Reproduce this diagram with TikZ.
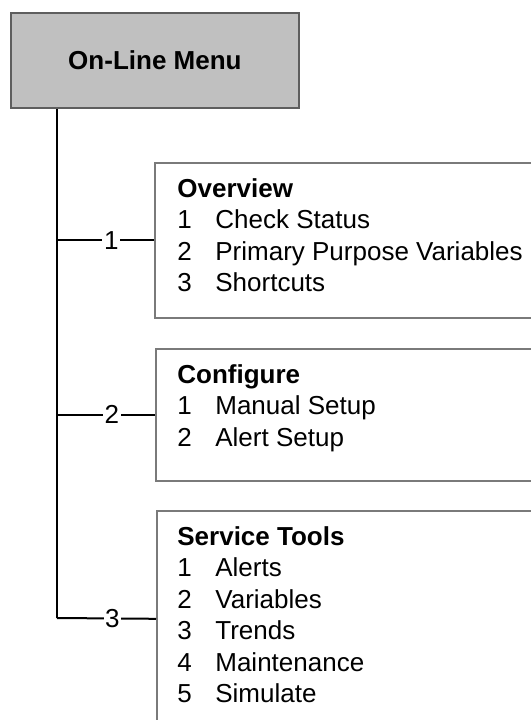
\documentclass[tikz,border=0pt]{standalone}
\usepackage{fontspec}
\setmainfont{Liberation Sans}
\usetikzlibrary{positioning, calc}
\definecolor{cmenu}{HTML}{C0C0C0}
\definecolor{cedge}{HTML}{5E5E5E}
\definecolor{cpanel}{HTML}{7A7A7A}

\newcommand{\itm}[2]{\makebox[19pt][l]{#1}#2}

\begin{document}
\begin{tikzpicture}[
    x=0.5pt, y=-0.5pt,
    font=\fontsize{13}{15.75}\selectfont,
    menu/.style={draw=cedge, fill=cmenu, line width=0.9pt, font=\fontsize{13}{15.75}\selectfont\bfseries, minimum width=144pt, minimum height=47.5pt, anchor=north west},
    panel/.style={draw=cpanel, line width=0.8pt, minimum width=196pt, minimum height=#1, inner sep=0pt, anchor=north west},
    entries/.style={anchor=base west, align=left, inner sep=0pt},
    trunk/.style={line width=1pt},
    branchno/.style={fill=white, inner sep=0.8pt, pos=0.56},
]
\useasboundingbox (0,0) rectangle (531,720);
\clip (0,0) rectangle (531,720);

\node[menu] (menu) at (10,12) {On-Line Menu};

\node[panel=77.5pt] (overview) at (154,162) {};
\node[panel=66pt] (configure) at (155,348) {};
\node[panel=108pt] (service) at (156,510) {};

% base anchor sits on the last line
\node[entries] (overviewlist) at (177,291.5) {\textbf{Overview}\\
    \itm{1}{Check Status}\\
    \itm{2}{Primary Purpose Variables}\\
    \itm{3}{Shortcuts}};
\node[entries] (configurelist) at (177,446) {\textbf{Configure}\\
    \itm{1}{Manual Setup}\\
    \itm{2}{Alert Setup}};
\node[entries] (servicelist) at (177,702.5) {\textbf{Service Tools}\\
    \itm{1}{Alerts}\\
    \itm{2}{Variables}\\
    \itm{3}{Trends}\\
    \itm{4}{Maintenance}\\
    \itm{5}{Simulate}};

% trunk and branches
\coordinate (t3) at (57,618);
\coordinate (t1) at (overview.west -| t3);
\coordinate (t2) at (configure.west -| t3);
\draw[trunk] (menu.south -| t3) -- (t3);
\draw[trunk] (t1) -- node[branchno] {1} (overview.west);
\draw[trunk] (t2) -- node[branchno] {2} (configure.west);
\draw[trunk] (t3) -- node[branchno] {3} (service.west);

\end{tikzpicture}
\end{document}
